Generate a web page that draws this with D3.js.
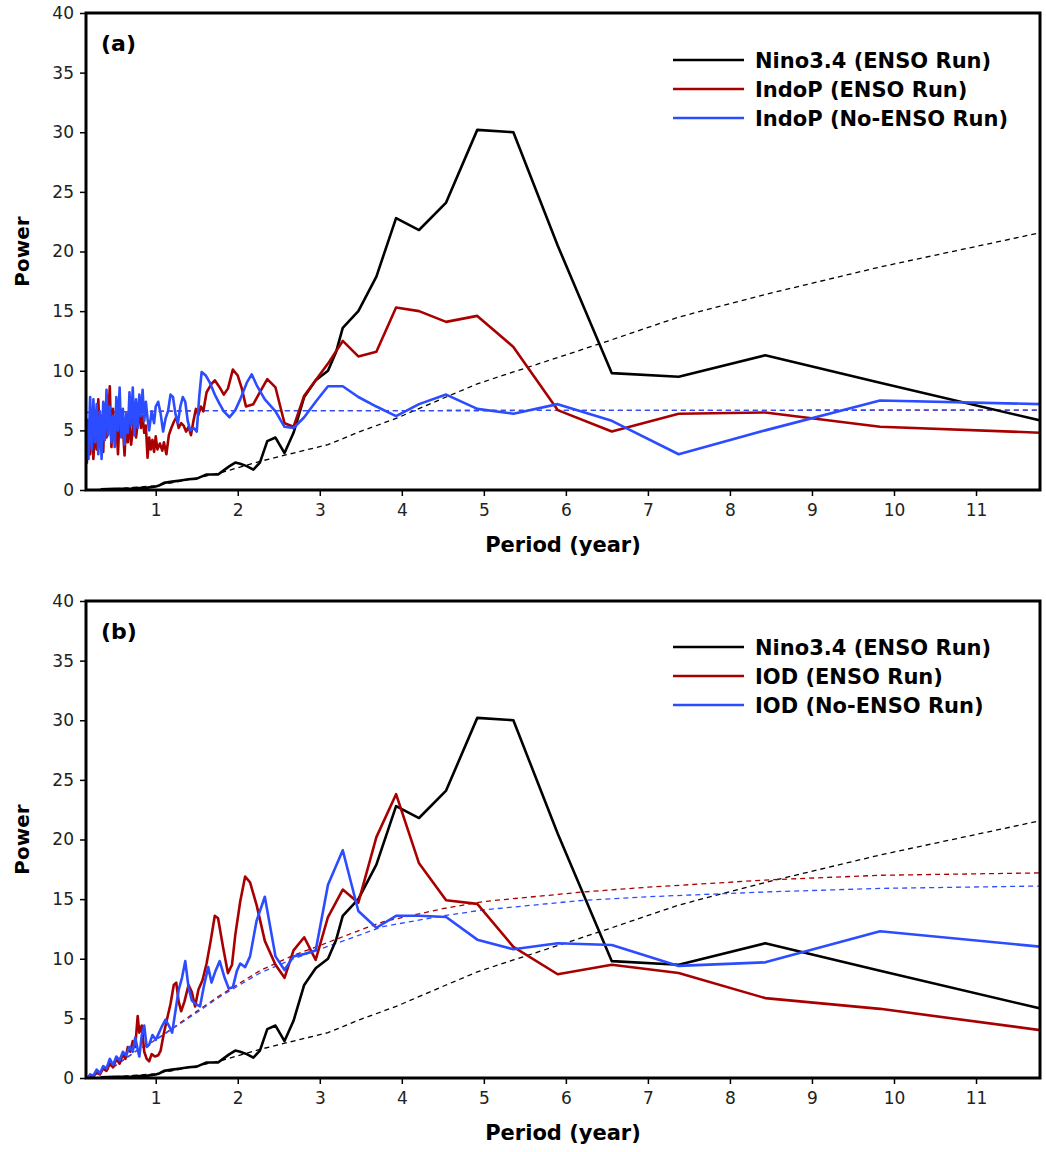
<!DOCTYPE html>
<html>
<head>
<meta charset="utf-8">
<script src="https://cdn.jsdelivr.net/npm/d3@7"></script>
<style>
  body { margin: 0; background: #fff; }
  text { font-family: "DejaVu Sans", sans-serif; }
</style>
</head>
<body>
<svg id="chart" width="1046" height="1152"></svg>
<script>
// ---- data: [period (year), power] ----
const xTicks = [1, 2, 3, 4, 5, 6, 7, 8, 9, 10, 11];
const yTicks = [0, 5, 10, 15, 20, 25, 30, 35, 40];

const nino34 = [
  [0.33, 0.05], [0.5, 0.1], [0.7, 0.12], [0.9, 0.2], [1.0, 0.3], [1.05, 0.4], [1.1, 0.6],
  [1.2, 0.7], [1.3, 0.8], [1.4, 0.9], [1.5, 0.95], [1.55, 1.1], [1.62, 1.3], [1.7, 1.3],
  [1.76, 1.3], [1.82, 1.6], [1.9, 2.0], [1.97, 2.3], [2.03, 2.2], [2.11, 2.0], [2.19, 1.7],
  [2.27, 2.3], [2.36, 4.1], [2.46, 4.4], [2.57, 3.1], [2.68, 4.8], [2.81, 7.8], [2.95, 9.2],
  [3.1, 10.0], [3.2, 11.6], [3.28, 13.6], [3.47, 15.0], [3.69, 17.9], [3.93, 22.8],
  [4.21, 21.8], [4.54, 24.1], [4.92, 30.2], [5.36, 30.0], [5.9, 20.5], [6.56, 9.8],
  [7.375, 9.5], [8.43, 11.3], [9.83, 9.0], [11.8, 5.8]
];
const nino34Sig = [
  [0.17, 0.0], [0.5, 0.1], [1.0, 0.35], [1.5, 1.0], [1.82, 1.5], [2.27, 2.4], [2.68, 3.1],
  [3.1, 3.8], [3.49, 4.9], [3.93, 6.0], [4.54, 7.8], [4.92, 8.9], [5.36, 9.9], [5.9, 11.1],
  [6.56, 12.6], [7.375, 14.5], [8.43, 16.4], [9.83, 18.7], [11.8, 21.6]
];

const indoPEnso = [
  [0.16, 2.2], [0.18, 5.8], [0.2, 3.0], [0.22, 6.0], [0.24, 2.6], [0.26, 5.5], [0.28, 3.4],
  [0.30, 7.6], [0.32, 4.0], [0.34, 6.2], [0.36, 3.2], [0.38, 7.2], [0.40, 4.4], [0.42, 5.8],
  [0.44, 8.7], [0.46, 3.6], [0.48, 6.8], [0.50, 4.2], [0.52, 5.6], [0.54, 3.0], [0.56, 6.4],
  [0.58, 4.6], [0.60, 5.2], [0.62, 2.9], [0.64, 6.0], [0.66, 4.0], [0.68, 5.8], [0.70, 3.8],
  [0.72, 5.0], [0.74, 6.6], [0.76, 4.4], [0.78, 5.6], [0.80, 6.4], [0.82, 5.2], [0.84, 6.2],
  [0.86, 4.8], [0.88, 5.4], [0.90, 2.7], [0.92, 4.4], [0.94, 3.4], [0.96, 4.2], [0.98, 3.2],
  [1.00, 4.5], [1.02, 3.4], [1.05, 3.9], [1.08, 3.3], [1.10, 4.0], [1.13, 3.0], [1.16, 4.6],
  [1.19, 5.2], [1.22, 5.7], [1.25, 6.1], [1.28, 5.2], [1.31, 5.6], [1.34, 5.4], [1.37, 4.9],
  [1.40, 5.3], [1.43, 4.6], [1.46, 5.8], [1.49, 6.8], [1.52, 6.3], [1.55, 7.0], [1.58, 6.6],
  [1.62, 8.2], [1.68, 8.9], [1.72, 9.2], [1.78, 8.6], [1.83, 8.0], [1.88, 8.5], [1.94, 10.1],
  [2.0, 9.6], [2.05, 8.5], [2.1, 7.0], [2.19, 7.2], [2.27, 8.2], [2.36, 9.3], [2.46, 8.6],
  [2.57, 5.6], [2.68, 5.3], [2.81, 7.9], [2.95, 9.2], [3.1, 10.6], [3.28, 12.5], [3.47, 11.2],
  [3.69, 11.6], [3.93, 15.3], [4.21, 15.0], [4.54, 14.1], [4.92, 14.6], [5.36, 12.0],
  [5.9, 6.7], [6.56, 4.9], [7.375, 6.4], [8.43, 6.5], [9.83, 5.3], [11.8, 4.8]
];
const indoPNoEnso = [
  [0.16, 6.0], [0.18, 2.6], [0.2, 7.8], [0.22, 3.4], [0.24, 7.6], [0.26, 4.0], [0.28, 7.2],
  [0.30, 3.0], [0.32, 6.6], [0.34, 2.6], [0.36, 7.4], [0.38, 4.2], [0.40, 8.4], [0.42, 4.6],
  [0.44, 7.0], [0.46, 4.0], [0.48, 6.2], [0.50, 3.6], [0.52, 7.8], [0.54, 5.0], [0.56, 8.6],
  [0.58, 4.4], [0.60, 6.8], [0.62, 3.8], [0.64, 6.4], [0.66, 4.8], [0.68, 8.2], [0.70, 5.4],
  [0.72, 8.6], [0.74, 4.6], [0.76, 7.6], [0.78, 5.2], [0.80, 8.0], [0.82, 6.2], [0.84, 8.4],
  [0.86, 5.8], [0.88, 7.4], [0.90, 6.0], [0.92, 5.0], [0.95, 6.6], [0.98, 5.6], [1.0, 7.0],
  [1.03, 7.4], [1.06, 6.4], [1.09, 4.9], [1.12, 6.0], [1.15, 6.6], [1.18, 8.0], [1.21, 7.8],
  [1.24, 6.4], [1.27, 5.6], [1.30, 7.0], [1.33, 7.8], [1.36, 7.4], [1.39, 5.8], [1.42, 5.0],
  [1.46, 5.2], [1.50, 4.9], [1.53, 7.8], [1.56, 9.9], [1.61, 9.6], [1.66, 9.0], [1.72, 8.0],
  [1.78, 7.2], [1.83, 6.6], [1.9, 6.1], [1.97, 6.7], [2.03, 7.6], [2.11, 9.0], [2.17, 9.7],
  [2.23, 8.8], [2.33, 7.6], [2.46, 6.6], [2.57, 5.3], [2.68, 5.2], [2.81, 6.1], [2.95, 7.4],
  [3.1, 8.7], [3.28, 8.7], [3.47, 7.8], [3.69, 7.0], [3.93, 6.2], [4.21, 7.2], [4.54, 8.0],
  [4.92, 6.8], [5.36, 6.4], [5.9, 7.2], [6.56, 5.8], [7.375, 3.0], [8.43, 5.0], [9.83, 7.5],
  [11.8, 7.2]
];
const indoPEnsoSig = [[0.16, 6.5], [1.5, 6.65], [11.8, 6.7]];
const indoPNoEnsoSig = [[0.16, 6.5], [1.5, 6.65], [11.8, 6.7]];

const iodEnso = [
  [0.17, 0.0], [0.2, 0.2], [0.24, 0.1], [0.28, 0.5], [0.32, 0.3], [0.36, 0.8], [0.40, 0.6],
  [0.44, 1.2], [0.48, 0.9], [0.52, 1.6], [0.56, 1.2], [0.60, 2.0], [0.63, 1.6], [0.66, 2.6],
  [0.69, 2.2], [0.72, 3.1], [0.75, 2.6], [0.78, 5.2], [0.80, 3.8], [0.83, 4.4], [0.86, 2.2],
  [0.89, 1.6], [0.92, 1.4], [0.95, 2.0], [0.99, 1.8], [1.03, 1.9], [1.06, 2.3], [1.10, 3.8],
  [1.14, 5.0], [1.18, 6.2], [1.22, 7.8], [1.25, 8.0], [1.28, 6.4], [1.31, 5.6], [1.35, 6.4],
  [1.40, 7.8], [1.44, 7.2], [1.48, 6.0], [1.52, 7.4], [1.57, 8.2], [1.62, 9.6], [1.67, 11.5],
  [1.72, 13.6], [1.76, 13.4], [1.82, 11.0], [1.88, 8.8], [1.93, 9.5], [1.97, 12.0],
  [2.03, 14.8], [2.09, 16.9], [2.15, 16.4], [2.23, 14.5], [2.33, 11.5], [2.46, 9.5],
  [2.57, 8.4], [2.68, 10.7], [2.81, 11.8], [2.95, 9.9], [3.1, 13.5], [3.28, 15.8],
  [3.47, 14.7], [3.69, 20.2], [3.93, 23.8], [4.21, 18.0], [4.54, 14.9], [4.92, 14.6],
  [5.36, 11.0], [5.9, 8.7], [6.56, 9.5], [7.375, 8.8], [8.43, 6.7], [9.83, 5.8], [11.8, 4.0]
];
const iodNoEnso = [
  [0.17, 0.0], [0.2, 0.3], [0.24, 0.2], [0.28, 0.7], [0.32, 0.4], [0.36, 1.0], [0.40, 0.8],
  [0.44, 1.6], [0.48, 1.1], [0.52, 1.8], [0.56, 1.5], [0.60, 2.2], [0.64, 1.9], [0.68, 2.6],
  [0.72, 2.2], [0.75, 3.4], [0.78, 2.4], [0.80, 1.8], [0.83, 3.6], [0.86, 4.4], [0.89, 2.6],
  [0.92, 2.8], [0.96, 3.6], [1.0, 3.2], [1.04, 3.8], [1.08, 4.4], [1.12, 4.9], [1.16, 4.4],
  [1.20, 3.8], [1.24, 5.6], [1.28, 7.4], [1.32, 8.4], [1.36, 9.8], [1.40, 7.6], [1.44, 6.5],
  [1.49, 6.2], [1.54, 6.0], [1.59, 7.8], [1.64, 9.3], [1.68, 8.0], [1.73, 9.0], [1.78, 9.8],
  [1.84, 8.4], [1.89, 7.5], [1.94, 7.6], [1.99, 9.0], [2.03, 9.6], [2.09, 9.3], [2.15, 10.2],
  [2.23, 13.2], [2.33, 15.2], [2.46, 10.2], [2.57, 9.05], [2.68, 10.2], [2.81, 10.4],
  [2.95, 10.7], [3.1, 16.2], [3.28, 19.1], [3.47, 14.0], [3.69, 12.6], [3.93, 13.6],
  [4.21, 13.6], [4.54, 13.5], [4.92, 11.6], [5.36, 10.8], [5.9, 11.3], [6.56, 11.15],
  [7.375, 9.4], [8.43, 9.7], [9.83, 12.3], [11.8, 11.0]
];
const iodEnsoSig = [
  [0.17, 0.0], [0.5, 1.0], [0.77, 2.3], [1.0, 3.2], [1.46, 5.4], [1.8, 7.0], [2.27, 9.0],
  [2.68, 10.3], [2.96, 11.0], [3.49, 12.4], [3.77, 13.1], [4.5, 14.2], [5.0, 14.8],
  [6.21, 15.6], [7.0, 16.0], [8.43, 16.6], [9.83, 17.0], [11.8, 17.2]
];
const iodNoEnsoSig = [
  [0.17, 0.0], [0.5, 1.0], [0.77, 2.3], [1.0, 3.2], [1.46, 5.3], [1.8, 6.9], [2.27, 8.8],
  [2.68, 10.0], [2.96, 10.7], [3.49, 12.0], [3.77, 12.7], [4.5, 13.6], [5.0, 14.1],
  [6.21, 14.9], [7.0, 15.2], [8.43, 15.6], [9.83, 15.9], [11.8, 16.1]
];

const BLACK = '#000000';
const RED = '#a80000';
const BLUE = '#2c4cff';

const panels = [
  {
    label: '(a)', top: 13, bottom: 490, legendY: [60, 89, 118],
    names: ['Nino3.4 (ENSO Run)', 'IndoP (ENSO Run)', 'IndoP (No-ENSO Run)'],
    sig: [nino34Sig, indoPEnsoSig, indoPNoEnsoSig],
    series: [nino34, indoPEnso, indoPNoEnso]
  },
  {
    label: '(b)', top: 601, bottom: 1078, legendY: [647, 676, 705],
    names: ['Nino3.4 (ENSO Run)', 'IOD (ENSO Run)', 'IOD (No-ENSO Run)'],
    sig: [nino34Sig, iodEnsoSig, iodNoEnsoSig],
    series: [nino34, iodEnso, iodNoEnso]
  }
];
const colors = [BLACK, RED, BLUE];

const left = 86, right = 1040;
const svg = d3.select('#chart');

panels.forEach((p, pi) => {
  const x = d3.scaleLinear().domain([0.15, 11.78]).range([left, right]);
  const y = d3.scaleLinear().domain([0, 40]).range([p.bottom, p.top]);

  const clipId = 'clip' + pi;
  svg.append('clipPath').attr('id', clipId)
    .append('rect')
    .attr('x', left).attr('y', p.top)
    .attr('width', right - left).attr('height', p.bottom - p.top);

  const line = d3.line().x(d => x(d[0])).y(d => y(d[1]));
  const g = svg.append('g').attr('clip-path', `url(#${clipId})`);

  // significance curves (dashed)
  p.sig.forEach((s, i) => {
    g.append('path')
      .datum(s)
      .attr('d', line)
      .attr('fill', 'none')
      .attr('stroke', colors[i])
      .attr('stroke-width', 1.3)
      .attr('stroke-dasharray', '5,4');
  });

  // spectra
  p.series.forEach((s, i) => {
    g.append('path')
      .datum(s)
      .attr('d', line)
      .attr('fill', 'none')
      .attr('stroke', colors[i])
      .attr('stroke-width', 2.6)
      .attr('stroke-linejoin', 'round');
  });

  // axes
  const yAxis = svg.append('g')
    .attr('transform', `translate(${left},0)`)
    .call(d3.axisLeft(y).tickValues(yTicks).tickSize(6).tickPadding(6));
  yAxis.select('.domain').remove();
  yAxis.selectAll('.tick line').attr('stroke-width', 1.5);
  yAxis.selectAll('.tick text')
    .attr('font-size', 17).attr('fill', '#222')
    .attr('font-family', '"DejaVu Sans", sans-serif');

  const xAxis = svg.append('g')
    .attr('transform', `translate(0,${p.bottom})`)
    .call(d3.axisBottom(x).tickValues(xTicks).tickSize(6).tickPadding(8));
  xAxis.select('.domain').remove();
  xAxis.selectAll('.tick line').attr('stroke-width', 1.5);
  xAxis.selectAll('.tick text')
    .attr('font-size', 17).attr('fill', '#222')
    .attr('font-family', '"DejaVu Sans", sans-serif');

  // frame
  svg.append('rect')
    .attr('x', left).attr('y', p.top)
    .attr('width', right - left).attr('height', p.bottom - p.top)
    .attr('fill', 'none').attr('stroke', '#000').attr('stroke-width', 3);

  // titles
  svg.append('text')
    .attr('transform', `translate(29,${(p.top + p.bottom) / 2}) rotate(-90)`)
    .attr('text-anchor', 'middle')
    .attr('font-size', 20).attr('font-weight', 'bold')
    .text('Power');

  svg.append('text')
    .attr('x', (left + right) / 2).attr('y', p.bottom + 62)
    .attr('text-anchor', 'middle')
    .attr('font-size', 21).attr('font-weight', 'bold')
    .text('Period (year)');

  svg.append('text')
    .attr('x', 101).attr('y', p.top + 38)
    .attr('font-size', 22).attr('font-weight', 'bold')
    .text(p.label);

  // legend
  p.names.forEach((n, i) => {
    const ly = p.legendY[i];
    svg.append('line')
      .attr('x1', 673).attr('x2', 744)
      .attr('y1', ly).attr('y2', ly)
      .attr('stroke', colors[i]).attr('stroke-width', 2.6);
    svg.append('text')
      .attr('x', 755).attr('y', ly)
      .attr('dy', '0.36em')
      .attr('font-size', 21).attr('font-weight', 'bold')
      .text(n);
  });
});
</script>
</body>
</html>
